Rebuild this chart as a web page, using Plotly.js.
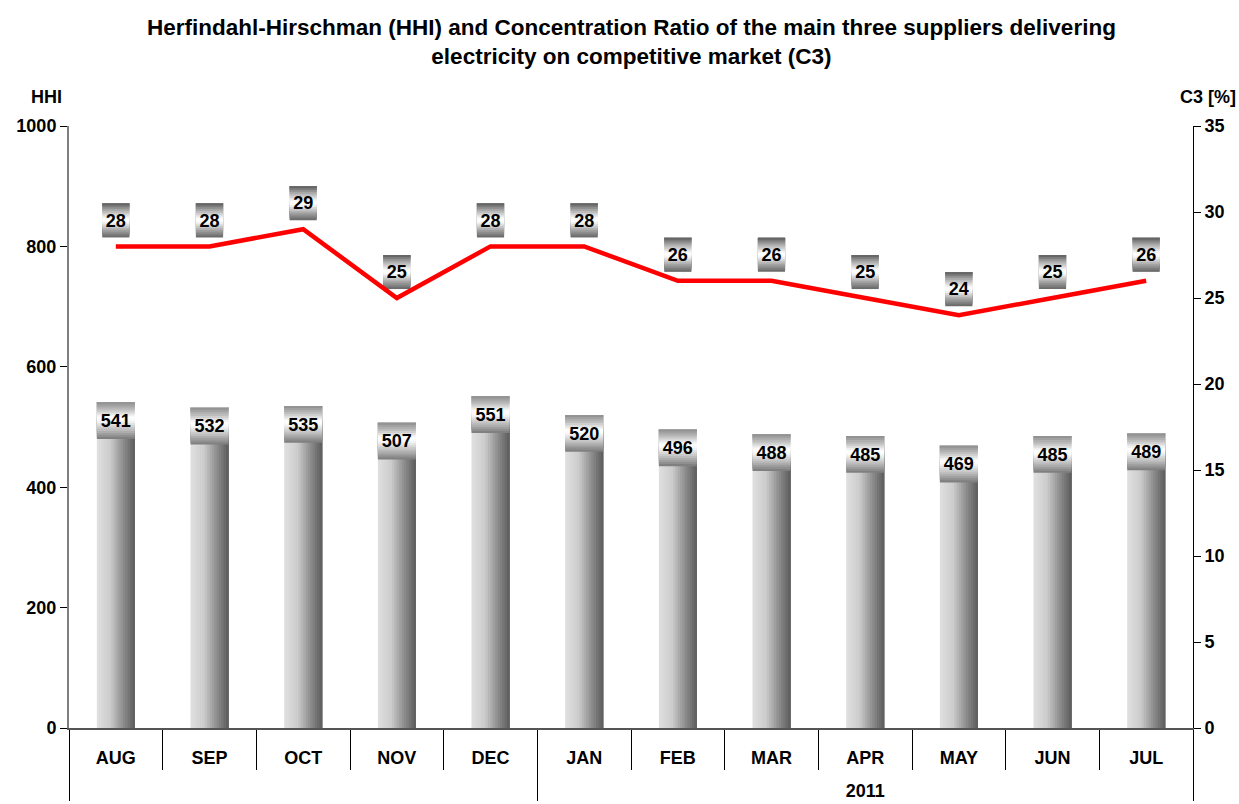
<!DOCTYPE html>
<html>
<head>
<meta charset="utf-8">
<script src="https://cdn.plot.ly/plotly-3.0.1.min.js"></script>
<style>html,body{margin:0;padding:0;background:#fff;}#chart{width:1239px;height:804px;}</style>
</head>
<body>
<div id="chart"></div>
<script>
// ---- data ----
const months = ['AUG','SEP','OCT','NOV','DEC','JAN','FEB','MAR','APR','MAY','JUN','JUL'];
const yearGroup = [' ',' ',' ',' ',' ','<br>2011','<br>2011','<br>2011','<br>2011','<br>2011','<br>2011','<br>2011'];
const hhi = [541,532,535,507,551,520,496,488,485,469,485,489];
const c3 = [28,28,29,25,28,28,26,26,25,24,25,26];

// ---- styling helpers ----
const FONT = '"Liberation Sans", Arial, sans-serif';
const x = [yearGroup, months];
const traces = [];

function lerp(a,b,t){return Math.round(a+(b-a)*t);}
function gray(v){return 'rgb('+v+','+v+','+v+')';}
function gradColor(stops, t){
  for(let i=0;i<stops.length-1;i++){
    const [t0,v0]=stops[i],[t1,v1]=stops[i+1];
    if(t>=t0 && t<=t1){return gray(lerp(v0,v1,(t-t0)/(t1-t0||1)));}
  }
  return gray(stops[stops.length-1][1]);
}

// bars: horizontal gradient built from overlaid slices (each slice extends to the right edge)
const barW = 0.405, M = 16;
const barStops = [[0,224],[0.35,204],[0.7,140],[1,92]];
for(let i=0;i<M;i++){
  traces.push({type:'bar', x:x, y:hhi, xaxis:'x', yaxis:'y',
    offset:-barW/2 + i*barW/M, width:barW - i*barW/M,
    marker:{color:gradColor(barStops,(i+0.5)/M), line:{width:0}},
    hoverinfo:'skip', showlegend:false});
}

// label boxes on bars: vertical gradient (bottom -> top)
const boxH = 61, N = 18;
const boxStops = [[0,120],[0.2,175],[0.5,250],[0.6,255],[0.8,190],[1,140]];
for(let k=0;k<N;k++){
  traces.push({type:'bar', x:x, yaxis:'y',
    base:hhi.map(v=>v-boxH + k*boxH/N), y:hhi.map(()=>boxH - k*boxH/N),
    offset:-barW/2, width:barW,
    marker:{color:gradColor(boxStops,(k+0.5)/N), line:{width:0}},
    hoverinfo:'skip', showlegend:false});
}
traces.push({type:'scatter', mode:'text', x:x, y:hhi.map(v=>v-boxH/2-3), yaxis:'y',
  text:hhi.map(String), textfont:{family:FONT, size:18, color:'#000', weight:'bold'},
  hoverinfo:'skip', showlegend:false});

// C3 line
traces.push({type:'scatter', mode:'lines', x:x, y:c3, xaxis:'x', yaxis:'y2',
  line:{color:'#ff0000', width:4.5}, hoverinfo:'skip', showlegend:false});

// C3 label boxes
const cW = 0.29, cGap = 0.52, cH = 1.98;
const cStops = [[0,100],[0.2,160],[0.45,250],[0.55,255],[0.8,170],[1,90]];
for(let k=0;k<N;k++){
  traces.push({type:'bar', x:x, yaxis:'y2',
    base:c3.map(v=>v+cGap + k*cH/N), y:c3.map(()=>cH - k*cH/N),
    offset:-cW/2, width:cW,
    marker:{color:gradColor(cStops,(k+0.5)/N), line:{width:0}},
    hoverinfo:'skip', showlegend:false});
}
traces.push({type:'scatter', mode:'text', x:x, y:c3.map(v=>v+cGap+cH/2-0.1), yaxis:'y2',
  text:c3.map(String), textfont:{family:FONT, size:18, color:'#000', weight:'bold'},
  hoverinfo:'skip', showlegend:false});

const layout = {
  width:1239, height:804,
  paper_bgcolor:'#fff', plot_bgcolor:'#fff',
  margin:{l:69, r:46, t:126, b:76},
  barmode:'overlay',
  font:{family:FONT, size:18, color:'#000'},
  xaxis:{type:'multicategory', range:[-0.5, 11.5], showline:true, linecolor:'#555', linewidth:1.5,
    ticks:'outside', ticklen:40, tickcolor:'#000', tickwidth:1, tickson:'boundaries',
    ticklabelstandoff:13,
    showdividers:true, dividercolor:'#000', dividerwidth:1,
    tickfont:{family:FONT, size:18, weight:'bold', color:'#000'},
    showgrid:false, zeroline:false, automargin:false, fixedrange:true},
  yaxis:{range:[0,1000], dtick:200, showline:true, linecolor:'#808080', linewidth:2,
    ticks:'outside', ticklen:7, tickcolor:'#000', showgrid:false, zeroline:false,
    tickfont:{family:FONT, size:18, weight:'bold', color:'#000'}, automargin:false, fixedrange:true},
  yaxis2:{range:[0,35], dtick:5, overlaying:'y', side:'right', showline:true, linecolor:'#000', linewidth:1,
    ticks:'outside', ticklen:7, tickcolor:'#000', showgrid:false, zeroline:false,
    tickfont:{family:FONT, size:18, weight:'bold', color:'#000'}, automargin:false, fixedrange:true},
  annotations:[
    {text:'<b>Herfindahl-Hirschman (HHI) and Concentration Ratio of the main three suppliers delivering<br>electricity on competitive market (C3)</b>',
     xref:'paper', yref:'paper', x:0.5, y:(728-42)/602, xanchor:'center', yanchor:'middle', showarrow:false,
     font:{family:FONT, size:22.5, color:'#000'}},
    {text:'<b>HHI</b>', xref:'paper', yref:'paper', x:-0.02, y:(728-97)/602, xanchor:'center', yanchor:'middle', showarrow:false, font:{family:FONT, size:18, color:'#000'}},
    {text:'<b>C3 [%]</b>', xref:'paper', yref:'paper', x:1.0135, y:(728-97)/602, xanchor:'center', yanchor:'middle', showarrow:false, font:{family:FONT, size:18, color:'#000'}}
  ]
};

Plotly.newPlot('chart', traces, layout, {displayModeBar:false, staticPlot:true});
</script>
</body>
</html>
